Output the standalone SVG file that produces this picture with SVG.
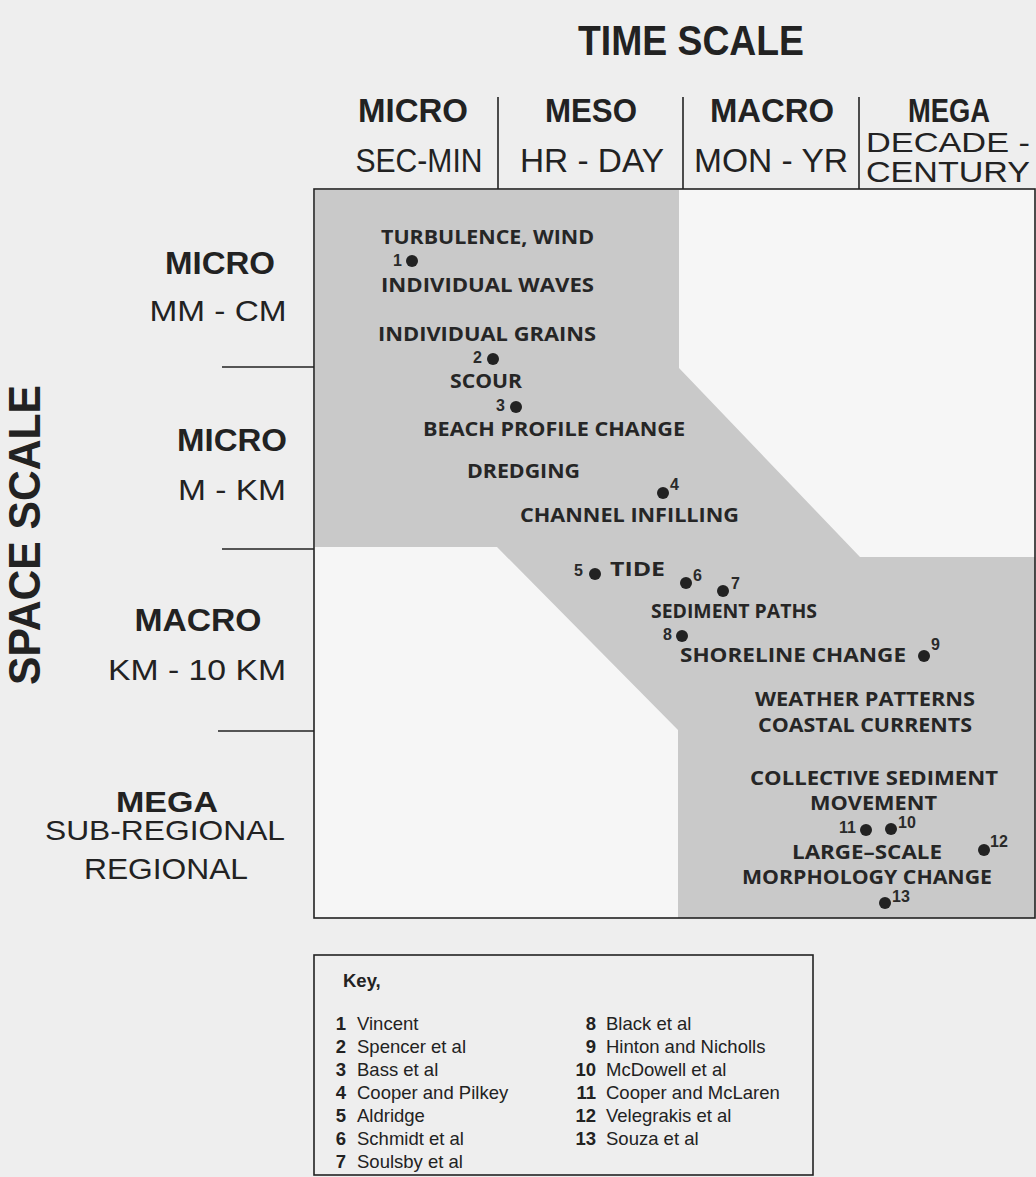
<svg xmlns="http://www.w3.org/2000/svg" width="1036" height="1177" viewBox="0 0 1036 1177">
<style>
.hdr{font-family:"Liberation Sans Narrow","Liberation Sans",Arial,sans-serif;fill:#222;}
.hb{font-weight:700;}
.side{font-family:"Liberation Sans",Arial,sans-serif;fill:#222;}
.lbl{font-family:"Open Sans","Noto Sans",sans-serif;font-weight:700;font-size:20px;fill:#262626;}
.num{font-family:"Liberation Sans",Arial,sans-serif;font-size:16px;font-weight:700;fill:#2a2a2a;}
.key{font-family:"Liberation Sans",Arial,sans-serif;font-size:18.5px;fill:#222;}
.kb{font-weight:700;}
.ln{stroke:#222;stroke-width:1.6;fill:none;}
.dot{fill:#222;}
</style>
<rect width="1036" height="1177" fill="#eeeeee"/>

<g id="time-scale-header">
<text class="hdr hb" x="691" y="55" font-size="42" text-anchor="middle" textLength="226" lengthAdjust="spacingAndGlyphs">TIME SCALE</text>
<text class="hdr hb" x="413" y="122" font-size="34" text-anchor="middle" textLength="110" lengthAdjust="spacingAndGlyphs">MICRO</text>
<text class="hdr" x="419" y="172" font-size="34" text-anchor="middle" textLength="127" lengthAdjust="spacingAndGlyphs">SEC-MIN</text>
<text class="hdr hb" x="591" y="122" font-size="34" text-anchor="middle" textLength="92" lengthAdjust="spacingAndGlyphs">MESO</text>
<text class="hdr" x="592" y="172" font-size="34" text-anchor="middle" textLength="144" lengthAdjust="spacingAndGlyphs">HR - DAY</text>
<text class="hdr hb" x="772" y="122" font-size="34" text-anchor="middle" textLength="124" lengthAdjust="spacingAndGlyphs">MACRO</text>
<text class="hdr" x="771" y="172" font-size="34" text-anchor="middle" textLength="154" lengthAdjust="spacingAndGlyphs">MON - YR</text>
<text class="hdr hb" x="949" y="122" font-size="34" text-anchor="middle" textLength="82" lengthAdjust="spacingAndGlyphs">MEGA</text>
<text class="hdr" x="948" y="152" font-size="28" text-anchor="middle" textLength="164" lengthAdjust="spacingAndGlyphs">DECADE -</text>
<text class="hdr" x="948" y="182" font-size="30" text-anchor="middle" textLength="164" lengthAdjust="spacingAndGlyphs">CENTURY</text>
</g>

<g id="space-scale-header">
<text class="hdr hb" transform="translate(40,535) rotate(-90)" font-size="44" text-anchor="middle" textLength="300" lengthAdjust="spacingAndGlyphs">SPACE SCALE</text>
<text class="side" x="220" y="274" font-size="32" font-weight="700" text-anchor="middle" textLength="110" lengthAdjust="spacingAndGlyphs">MICRO</text>
<text class="side" x="218" y="321" font-size="30" text-anchor="middle" textLength="137" lengthAdjust="spacingAndGlyphs">MM - CM</text>
<text class="side" x="232" y="451" font-size="32" font-weight="700" text-anchor="middle" textLength="110" lengthAdjust="spacingAndGlyphs">MICRO</text>
<text class="side" x="232" y="500" font-size="30" text-anchor="middle" textLength="108" lengthAdjust="spacingAndGlyphs">M - KM</text>
<text class="side" x="198" y="631" font-size="32" font-weight="700" text-anchor="middle" textLength="127" lengthAdjust="spacingAndGlyphs">MACRO</text>
<text class="side" x="197" y="680" font-size="30" text-anchor="middle" textLength="178" lengthAdjust="spacingAndGlyphs">KM - 10 KM</text>
<text class="side" x="167" y="812" font-size="30" font-weight="700" text-anchor="middle" textLength="102" lengthAdjust="spacingAndGlyphs">MEGA</text>
<text class="side" x="165" y="840" font-size="28" text-anchor="middle" textLength="240" lengthAdjust="spacingAndGlyphs">SUB-REGIONAL</text>
<text class="side" x="166" y="879" font-size="29" text-anchor="middle" textLength="164" lengthAdjust="spacingAndGlyphs">REGIONAL</text>
</g>

<g id="chart">
<rect x="314" y="189" width="721" height="729" fill="#f6f6f6"/>
<polygon points="315,190 679,190 679,368 860,557 1035,557 1035,918 678,918 678,730 497,547 315,547" fill="#c9c9c9"/>
<rect x="314" y="189" width="721" height="729" class="ln"/>
</g>

<g id="connectors">
<line class="ln" x1="498" y1="97" x2="498" y2="189"/>
<line class="ln" x1="683" y1="97" x2="683" y2="189"/>
<line class="ln" x1="859" y1="97" x2="859" y2="189"/>
<line class="ln" x1="222" y1="367" x2="314" y2="367"/>
<line class="ln" x1="222" y1="549" x2="314" y2="549"/>
<line class="ln" x1="218" y1="731" x2="314" y2="731"/>
</g>

<g id="processes">
<text class="lbl" x="381" y="244" textLength="213" lengthAdjust="spacingAndGlyphs">TURBULENCE, WIND</text>
<text class="lbl" x="381" y="292" textLength="213" lengthAdjust="spacingAndGlyphs">INDIVIDUAL WAVES</text>
<text class="lbl" x="378" y="341" textLength="218" lengthAdjust="spacingAndGlyphs">INDIVIDUAL GRAINS</text>
<text class="lbl" x="450" y="388" textLength="72" lengthAdjust="spacingAndGlyphs">SCOUR</text>
<text class="lbl" x="423" y="436" textLength="262" lengthAdjust="spacingAndGlyphs">BEACH PROFILE CHANGE</text>
<text class="lbl" x="467" y="478" textLength="113" lengthAdjust="spacingAndGlyphs">DREDGING</text>
<text class="lbl" x="520" y="522" textLength="219" lengthAdjust="spacingAndGlyphs">CHANNEL INFILLING</text>
<text class="lbl" x="610" y="576" textLength="55" lengthAdjust="spacingAndGlyphs">TIDE</text>
<text class="lbl" x="651" y="618" textLength="166" lengthAdjust="spacingAndGlyphs">SEDIMENT PATHS</text>
<text class="lbl" x="680" y="662" textLength="226" lengthAdjust="spacingAndGlyphs">SHORELINE CHANGE</text>
<text class="lbl" x="755" y="706" textLength="220" lengthAdjust="spacingAndGlyphs">WEATHER PATTERNS</text>
<text class="lbl" x="758" y="732" textLength="214" lengthAdjust="spacingAndGlyphs">COASTAL CURRENTS</text>
<text class="lbl" x="750" y="785" textLength="248" lengthAdjust="spacingAndGlyphs">COLLECTIVE SEDIMENT</text>
<text class="lbl" x="810" y="810" textLength="127" lengthAdjust="spacingAndGlyphs">MOVEMENT</text>
<text class="lbl" x="792" y="859" textLength="150" lengthAdjust="spacingAndGlyphs">LARGE–SCALE</text>
<text class="lbl" x="742" y="884" textLength="250" lengthAdjust="spacingAndGlyphs">MORPHOLOGY CHANGE</text>
</g>

<g id="studies">
<circle class="dot" cx="412" cy="261" r="6"/><text class="num" x="393" y="266">1</text>
<circle class="dot" cx="493" cy="359" r="6"/><text class="num" x="473" y="363">2</text>
<circle class="dot" cx="516" cy="407" r="6"/><text class="num" x="496" y="411">3</text>
<circle class="dot" cx="663" cy="493" r="6"/><text class="num" x="670" y="490">4</text>
<circle class="dot" cx="595" cy="574" r="6"/><text class="num" x="574" y="576">5</text>
<circle class="dot" cx="686" cy="583" r="6"/><text class="num" x="693" y="581">6</text>
<circle class="dot" cx="723" cy="591" r="6"/><text class="num" x="731" y="589">7</text>
<circle class="dot" cx="682" cy="636" r="6"/><text class="num" x="663" y="640">8</text>
<circle class="dot" cx="924" cy="656" r="6"/><text class="num" x="931" y="650">9</text>
<circle class="dot" cx="891" cy="829" r="6"/><text class="num" x="898" y="828">10</text>
<circle class="dot" cx="866" cy="830" r="6"/><text class="num" x="839" y="833">11</text>
<circle class="dot" cx="984" cy="850" r="6"/><text class="num" x="990" y="847">12</text>
<circle class="dot" cx="885" cy="903" r="6"/><text class="num" x="892" y="902">13</text>
</g>

<g id="key">
<rect x="314" y="955" width="499" height="220" fill="#f4f4f4" class="ln"/>
<text class="key kb" x="343" y="987" font-size="17">Key,</text>
<g text-anchor="end" class="key kb">
<text x="346" y="1030">1</text><text x="346" y="1053">2</text><text x="346" y="1076">3</text><text x="346" y="1099">4</text><text x="346" y="1122">5</text><text x="346" y="1145">6</text><text x="346" y="1168">7</text>
<text x="596" y="1030">8</text><text x="596" y="1053">9</text><text x="596" y="1076">10</text><text x="596" y="1099">11</text><text x="596" y="1122">12</text><text x="596" y="1145">13</text>
</g>
<g class="key">
<text x="357" y="1030">Vincent</text>
<text x="357" y="1053">Spencer et al</text>
<text x="357" y="1076">Bass et al</text>
<text x="357" y="1099">Cooper and Pilkey</text>
<text x="357" y="1122">Aldridge</text>
<text x="357" y="1145">Schmidt et al</text>
<text x="357" y="1168">Soulsby et al</text>
<text x="606" y="1030">Black et al</text>
<text x="606" y="1053">Hinton and Nicholls</text>
<text x="606" y="1076">McDowell et al</text>
<text x="606" y="1099">Cooper and McLaren</text>
<text x="606" y="1122">Velegrakis et al</text>
<text x="606" y="1145">Souza et al</text>
</g>
</g>
</svg>
